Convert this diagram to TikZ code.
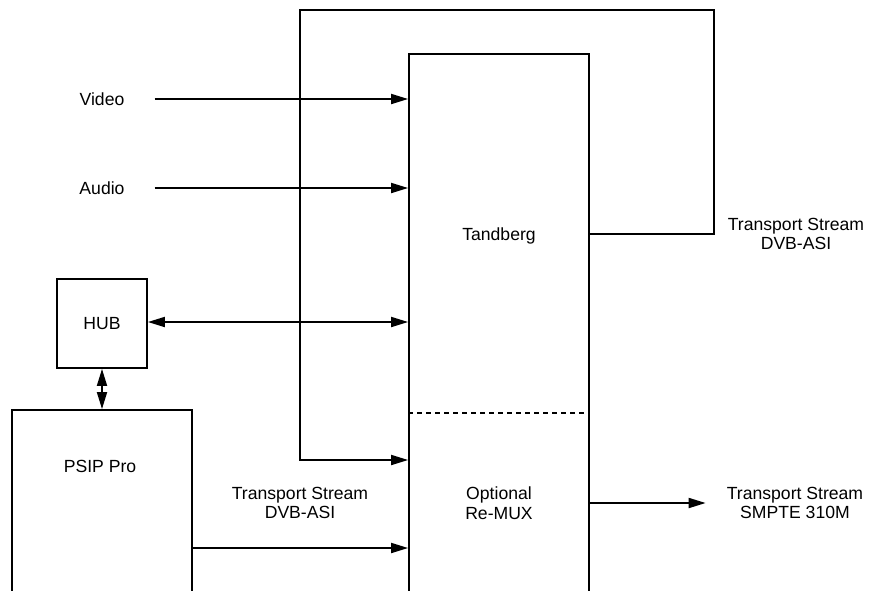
\documentclass[tikz,border=0pt]{standalone}
\usepackage{fontspec}
\setmainfont{Liberation Sans}
\usetikzlibrary{arrows.meta,positioning,calc}
\tikzset{
  block/.style={rectangle,draw=black,line width=1.8pt,minimum width=#1,inner sep=0pt},
  block/.default=180pt,
  txt/.style={font=\fontsize{17.6}{19.5}\selectfont,align=center,inner sep=0pt},
  flow/.style={-{Triangle[length=17pt,width=10pt]},line width=1.8pt},
  twoway/.style={{Triangle[length=17pt,width=10pt]}-{Triangle[length=17pt,width=10pt]},line width=1.8pt},
}
\begin{document}
\begin{tikzpicture}[x=1pt,y=-1pt]
  \useasboundingbox (0,0) rectangle (870,590);
  \clip (0,0) rectangle (870,590);

  % boxes (cut by the bottom edge)
  \node[block,minimum height=566pt] (tandberg) at (499,337) {};
  \node[block,minimum height=220pt] (psip) at (102,520) {};
  \node[block=90pt,minimum height=89pt] (hub) at (102,323.5) {};
  \draw[line width=1.8pt,dash pattern=on 5pt off 4pt] (tandberg.west |- 0,413) -- (tandberg.east |- 0,413);

  \node[txt] (tb)    at (499,236) {Tandberg};
  \node[txt] (remux) at (499,503) {Optional\\Re-MUX};
  \node[txt] (pp)    at (100,466) {PSIP Pro};
  \node[txt] at (hub) {HUB};

  \node[txt] (video) at (102,99)  {Video};
  \node[txt] (audio) at (102,188) {Audio};
  \node[txt] (asiout) at (796,234) {Transport Stream\\DVB-ASI};
  \node[txt] (asiin)  at (300,503) {Transport Stream\\DVB-ASI};
  \node[txt] (smpte)  at (795,503) {Transport Stream\\SMPTE 310M};

  \draw[flow] ([xshift=30pt]video.east) -- (video -| tandberg.west);
  \draw[flow] ([xshift=30pt]audio.east) -- (audio -| tandberg.west);
  \draw[twoway] (hub.east |- 0,322) -- (tandberg.west |- 0,322);
  \draw[twoway] (hub.south) -- (hub.south |- psip.north);
  \draw[flow] (psip.east |- 0,548) -- (tandberg.west |- 0,548);
  \draw[flow] (remux -| tandberg.east) -- ([xshift=-21pt]smpte.west);

  % loop back from the encoder output
  \draw[flow] (tandberg.east |- 0,234) -- (714,234) -- (714,10)
    -- (300,10) -- (300,460) -- (tandberg.west |- 0,460);
\end{tikzpicture}
\end{document}
